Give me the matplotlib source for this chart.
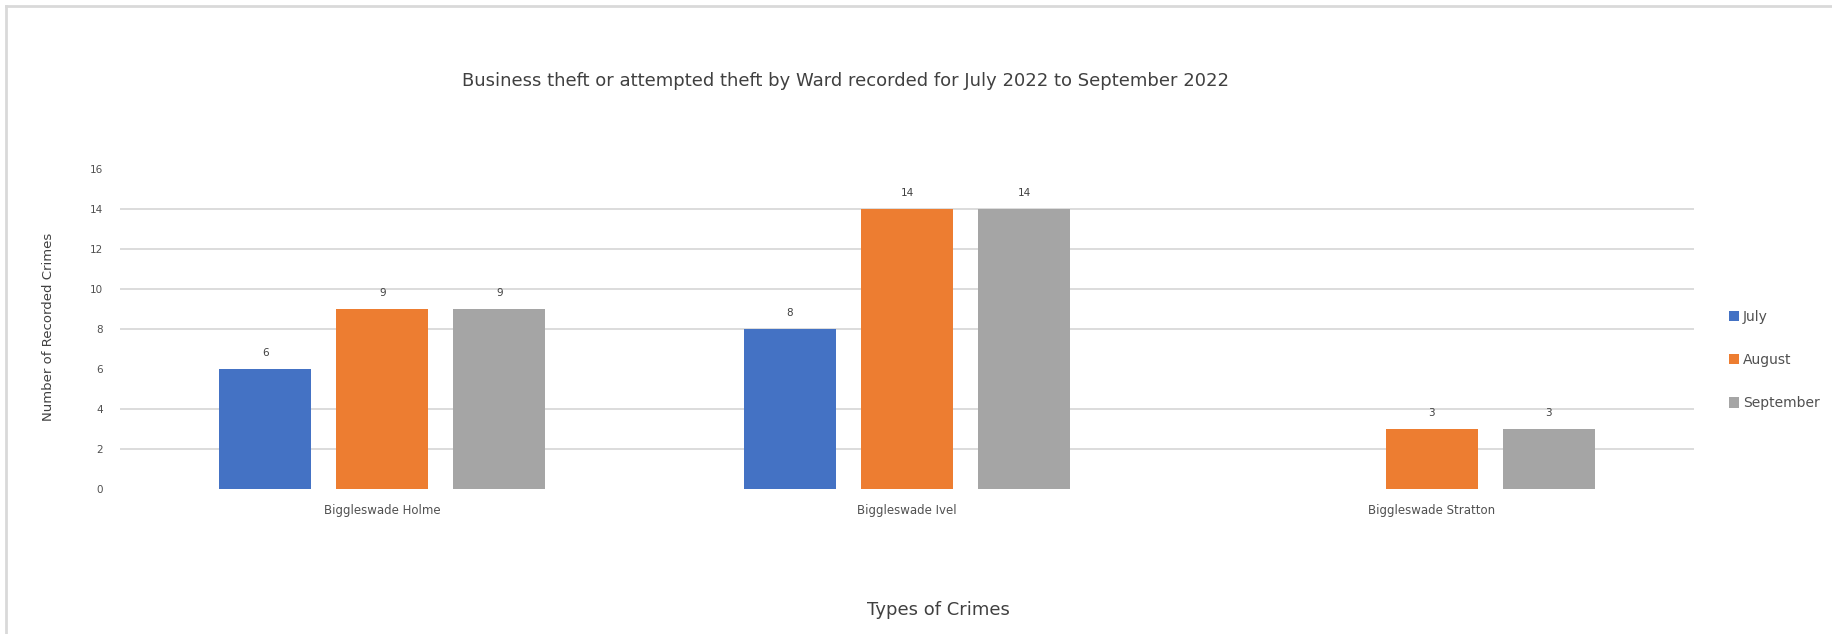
import matplotlib
matplotlib.use("Agg")
import matplotlib.pyplot as plt
from matplotlib.lines import Line2D
from matplotlib.patches import Patch
import numpy as np

# Crimes per ward and month
wards = ["Biggleswade Holme", "Biggleswade Ivel", "Biggleswade Stratton"]
months = ["July", "August", "September"]
july = [6, 8, None]
august = [9, 14, 3]
september = [9, 14, 3]
y_ticks = [0, 2, 4, 6, 8, 10, 12, 14, 16]
grid_levels = [2, 4, 8, 10, 12, 14]

colors = ["#4472C4", "#ED7D31", "#A5A5A5"]
text_color = "#505050"

W, H = 1833, 634
fig = plt.figure(figsize=(W / 100, H / 100), dpi=100)
ax = fig.add_axes([120 / W, 1 - 489 / H, (1694 - 120) / W, (489 - 169) / H])

x = np.arange(len(wards))
width = 0.175
offset = 0.223
for i, (name, vals, col) in enumerate(zip(months, [july, august, september], colors)):
    pos = [x[j] + (i - 1) * offset for j, v in enumerate(vals) if v is not None]
    hts = [v for v in vals if v is not None]
    bars = ax.bar(pos, hts, width, color=col, linewidth=0, zorder=2, label=name)
    ax.bar_label(bars, labels=[f"{v:g}" for v in hts], padding=8,
                 fontsize=7.5, color="#404040")

for g in grid_levels:
    ax.axhline(g, color="#d9d9d9", lw=1.3, zorder=0)

ax.set_xlim(-0.5, len(wards) - 0.5)
ax.set_ylim(y_ticks[0], y_ticks[-1])
ax.set_yticks(y_ticks)
ax.set_xticks(x)
ax.set_xticklabels(wards)
ax.tick_params(axis="y", length=0, labelsize=7.5, colors=text_color, pad=12)
ax.tick_params(axis="x", length=0, labelsize=8.5, colors=text_color, pad=11)
for s in ax.spines.values():
    s.set_visible(False)

fig.text(846 / W, 1 - 81 / H,
         "Business theft or attempted theft by Ward recorded for July 2022 to September 2022",
         ha="center", va="center", fontsize=13, color="#404040")
fig.text(938 / W, 1 - 610 / H, "Types of Crimes", ha="center", va="center",
         fontsize=13, color="#404040")
fig.text(49 / W, 1 - 327 / H, "Number of Recorded Crimes", ha="center", va="center",
         rotation=90, fontsize=9.5, color="#404040")

handles = [Patch(facecolor=c, edgecolor="none") for c in colors]
fig.legend(handles, months, loc="center left", bbox_to_anchor=(1722 / W, 1 - 360 / H),
           frameon=False, fontsize=10, labelcolor=text_color, handlelength=0.7,
           handleheight=0.8, handletextpad=0.3, labelspacing=2.1, borderpad=0)

# chart border (left and top edges)
fig.add_artist(Line2D([6 / W, 6 / W], [0, 1 - 6 / H], transform=fig.transFigure,
                      color="#d9d9d9", lw=2))
fig.add_artist(Line2D([6 / W, 1], [1 - 6 / H, 1 - 6 / H], transform=fig.transFigure,
                      color="#d9d9d9", lw=2))

fig.savefig("out.png", dpi=100, facecolor="white")
